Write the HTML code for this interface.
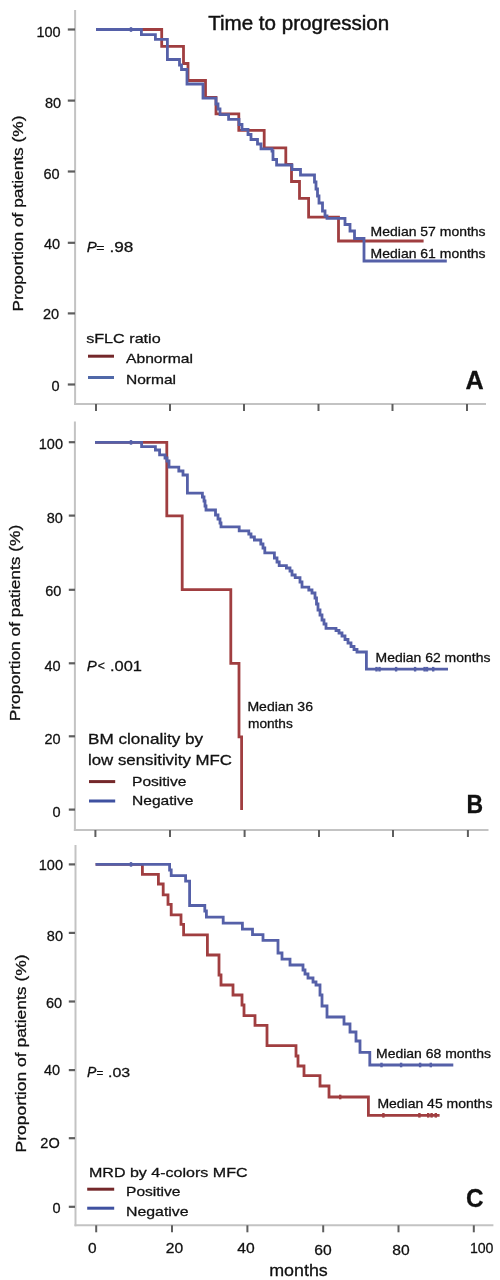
<!DOCTYPE html>
<html><head><meta charset="utf-8"><style>
html,body{margin:0;padding:0;background:#fff;}
svg{display:block;font-family:"Liberation Sans", sans-serif;will-change:transform;}

</style></head><body>
<svg width="500" height="1280" viewBox="0 0 500 1280">
<rect width="500" height="1280" fill="#fff"/>
<line x1="75.1" y1="10" x2="75.1" y2="405" stroke="#c3c3c3" stroke-width="2"/>
<line x1="74.1" y1="404" x2="486" y2="404" stroke="#c3c3c3" stroke-width="2"/>
<line x1="67.8" y1="29.5" x2="75" y2="29.5" stroke="#5e5e5e" stroke-width="2.2"/>
<line x1="67.8" y1="100.6" x2="75" y2="100.6" stroke="#5e5e5e" stroke-width="2.2"/>
<line x1="67.8" y1="171.5" x2="75" y2="171.5" stroke="#5e5e5e" stroke-width="2.2"/>
<line x1="67.8" y1="242.8" x2="75" y2="242.8" stroke="#5e5e5e" stroke-width="2.2"/>
<line x1="67.8" y1="313.4" x2="75" y2="313.4" stroke="#5e5e5e" stroke-width="2.2"/>
<line x1="67.8" y1="384.5" x2="75" y2="384.5" stroke="#5e5e5e" stroke-width="2.2"/>
<line x1="96" y1="404" x2="96" y2="411" stroke="#5e5e5e" stroke-width="2"/>
<line x1="170" y1="404" x2="170" y2="411" stroke="#5e5e5e" stroke-width="2"/>
<line x1="244" y1="404" x2="244" y2="411" stroke="#5e5e5e" stroke-width="2"/>
<line x1="318.5" y1="404" x2="318.5" y2="411" stroke="#5e5e5e" stroke-width="2"/>
<line x1="392.5" y1="404" x2="392.5" y2="411" stroke="#5e5e5e" stroke-width="2"/>
<line x1="467" y1="404" x2="467" y2="411" stroke="#5e5e5e" stroke-width="2"/>
<text x="60.7" y="36.7" font-size="14.5" text-anchor="end" font-weight="normal" font-style="normal" fill="#111" stroke="#111" stroke-width="0.28" >100</text>
<text x="61.2" y="107.95" font-size="14.5" text-anchor="end" font-weight="normal" font-style="normal" fill="#111" stroke="#111" stroke-width="0.28" >80</text>
<text x="59.7" y="179.2" font-size="14.5" text-anchor="end" font-weight="normal" font-style="normal" fill="#111" stroke="#111" stroke-width="0.28" >60</text>
<text x="60.2" y="248.7" font-size="14.5" text-anchor="end" font-weight="normal" font-style="normal" fill="#111" stroke="#111" stroke-width="0.28" >40</text>
<text x="59.2" y="319.45" font-size="14.5" text-anchor="end" font-weight="normal" font-style="normal" fill="#111" stroke="#111" stroke-width="0.28" >20</text>
<text x="59.6" y="390.5" font-size="14.5" text-anchor="end" font-weight="normal" font-style="normal" fill="#111" stroke="#111" stroke-width="0.28" >0</text>
<text transform="translate(22.9,311.6) rotate(-90)" font-size="15.2" fill="#111" stroke="#111" stroke-width="0.28" textLength="196" lengthAdjust="spacingAndGlyphs">Proportion of patients (%)</text>
<text x="208.2" y="29.5" font-size="19.6" text-anchor="start" font-weight="normal" font-style="normal" fill="#111" stroke="#111" stroke-width="0.45" textLength="181" lengthAdjust="spacingAndGlyphs" >Time to progression</text>
<path d="M96,29.5 H161.7 V46.3 H183.5 V63.5 H188 V80.5 H205.5 V97.3 H216 V113.8 H238.8 V130.3 H264.2 V147.8 H285.8 V164.4 H291.5 V181.5 H299.5 V198.3 H308.6 V217.2 H338.5 V241 H423.6" fill="none" stroke="#a03e40" stroke-width="2.8" stroke-linejoin="miter" stroke-linecap="butt"/>
<path d="M96,29.5 H141.4 V34.6 H155.4 V39.4 H167.4 V59.5 H179.5 V65 H181.5 V69.5 H187 V84 H203 V98.2 H216 V104 H218 V109 H220 V114.6 H228.6 V119.4 H239 V124.5 H242 V129.5 H248 V134.5 H251 V139.5 H257.5 V144 H261 V148.8 H272 V151 H273 V159.5 H276.6 V165 H292 V169.5 H300.5 V175 H314.5 V182 H316 V189 H317.5 V196 H319 V203 H322.5 V211 H325 V216 H327 V218.3 H345 V224.5 H350 V231 H354.5 V238.5 H364 V261 H446.8" fill="none" stroke="#5560a8" stroke-width="2.8" stroke-linejoin="miter" stroke-linecap="butt"/>
<rect x="129.8" y="27.2" width="2.4" height="4.6" fill="#5560a8"/>
<text x="370.6" y="236.2" font-size="12.2" text-anchor="start" font-weight="normal" font-style="normal" fill="#111" stroke="#111" stroke-width="0.28" textLength="115" lengthAdjust="spacingAndGlyphs" >Median 57 months</text>
<text x="370.6" y="257.8" font-size="12.2" text-anchor="start" font-weight="normal" font-style="normal" fill="#111" stroke="#111" stroke-width="0.28" textLength="115" lengthAdjust="spacingAndGlyphs" >Median 61 months</text>
<text x="86.7" y="252.4" font-size="15" text-anchor="start" font-weight="normal" font-style="italic" fill="#111" stroke="#111" stroke-width="0.28" >P</text>
<text x="100.3" y="252.1" font-size="12.75" text-anchor="middle" font-weight="normal" font-style="normal" fill="#111" stroke="#111" stroke-width="0.28" textLength="8.200000000000006" lengthAdjust="spacingAndGlyphs" >=</text>
<text x="109.5" y="252.4" font-size="15" text-anchor="start" font-weight="normal" font-style="normal" fill="#111" stroke="#111" stroke-width="0.28" textLength="23.900000000000002" lengthAdjust="spacingAndGlyphs" >.98</text>
<text x="86.2" y="343" font-size="13.5" text-anchor="start" font-weight="normal" font-style="normal" fill="#111" stroke="#111" stroke-width="0.28" textLength="74.5" lengthAdjust="spacingAndGlyphs" >sFLC ratio</text>
<line x1="88" y1="356.2" x2="114" y2="356.2" stroke="#74282a" stroke-width="3"/>
<line x1="88" y1="377.5" x2="114" y2="377.5" stroke="#5068a8" stroke-width="3"/>
<text x="126" y="363.4" font-size="13.5" text-anchor="start" font-weight="normal" font-style="normal" fill="#111" stroke="#111" stroke-width="0.28" textLength="67" lengthAdjust="spacingAndGlyphs" >Abnormal</text>
<text x="126" y="383.8" font-size="13.5" text-anchor="start" font-weight="normal" font-style="normal" fill="#111" stroke="#111" stroke-width="0.28" textLength="50" lengthAdjust="spacingAndGlyphs" >Normal</text>
<text x="465.6" y="388.8" font-size="25.2" text-anchor="start" font-weight="bold" font-style="normal" fill="#111" stroke="#111" stroke-width="0.28" textLength="18.2" lengthAdjust="spacingAndGlyphs" >A</text>
<line x1="74.9" y1="421.6" x2="74.9" y2="831" stroke="#c3c3c3" stroke-width="2"/>
<line x1="73.9" y1="830" x2="488.5" y2="830" stroke="#c3c3c3" stroke-width="2"/>
<line x1="68.8" y1="442.2" x2="75" y2="442.2" stroke="#5e5e5e" stroke-width="2.2"/>
<line x1="68.8" y1="515.6" x2="75" y2="515.6" stroke="#5e5e5e" stroke-width="2.2"/>
<line x1="68.8" y1="589.8" x2="75" y2="589.8" stroke="#5e5e5e" stroke-width="2.2"/>
<line x1="68.8" y1="663.3" x2="75" y2="663.3" stroke="#5e5e5e" stroke-width="2.2"/>
<line x1="68.8" y1="736.3" x2="75" y2="736.3" stroke="#5e5e5e" stroke-width="2.2"/>
<line x1="68.8" y1="809.6" x2="75" y2="809.6" stroke="#5e5e5e" stroke-width="2.2"/>
<line x1="95.4" y1="830" x2="95.4" y2="837" stroke="#5e5e5e" stroke-width="2"/>
<line x1="170" y1="830" x2="170" y2="837" stroke="#5e5e5e" stroke-width="2"/>
<line x1="244.6" y1="830" x2="244.6" y2="837" stroke="#5e5e5e" stroke-width="2"/>
<line x1="319" y1="830" x2="319" y2="837" stroke="#5e5e5e" stroke-width="2"/>
<line x1="393" y1="830" x2="393" y2="837" stroke="#5e5e5e" stroke-width="2"/>
<line x1="467.9" y1="830" x2="467.9" y2="837" stroke="#5e5e5e" stroke-width="2"/>
<text x="63.0" y="449.3" font-size="14.5" text-anchor="end" font-weight="normal" font-style="normal" fill="#111" stroke="#111" stroke-width="0.28" >100</text>
<text x="62.900000000000006" y="523.0" font-size="14.5" text-anchor="end" font-weight="normal" font-style="normal" fill="#111" stroke="#111" stroke-width="0.28" >80</text>
<text x="61.400000000000006" y="595.6" font-size="14.5" text-anchor="end" font-weight="normal" font-style="normal" fill="#111" stroke="#111" stroke-width="0.28" >60</text>
<text x="60.7" y="670.95" font-size="14.5" text-anchor="end" font-weight="normal" font-style="normal" fill="#111" stroke="#111" stroke-width="0.28" >40</text>
<text x="60.7" y="744.35" font-size="14.5" text-anchor="end" font-weight="normal" font-style="normal" fill="#111" stroke="#111" stroke-width="0.28" >20</text>
<text x="60.7" y="817.2" font-size="14.5" text-anchor="end" font-weight="normal" font-style="normal" fill="#111" stroke="#111" stroke-width="0.28" >0</text>
<text transform="translate(20.1,721.2) rotate(-90)" font-size="15.2" fill="#111" stroke="#111" stroke-width="0.28" textLength="196.4" lengthAdjust="spacingAndGlyphs">Proportion of patients (%)</text>
<path d="M95,442.4 H166.8 V515.8 H182.2 V589.6 H230.8 V663.4 H239 V736.8 H241.6 V810" fill="none" stroke="#a03e40" stroke-width="2.8" stroke-linejoin="miter" stroke-linecap="butt"/>
<path d="M95,442.4 H141.6 V446.6 H155.4 V450 H159.6 V454.8 H165 V458 H167 V461 H169 V467.2 H178.8 V471 H183 V475 H187.4 V493.2 H202.4 V497 H204 V501 H205 V506 H206 V510 H215.5 V515 H218 V519 H220 V523 H221 V526.8 H239.2 V530.8 H248.8 V534 H251 V537 H254.4 V540 H260.8 V544 H263 V548 H264.8 V552.8 H274.4 V558 H277 V562 H279.2 V565.6 H286.4 V568 H290 V571 H292 V575 H295.2 V577.6 H300 V582 H302 V587.2 H308.8 V590 H312 V593 H315 V598 H316.5 V604 H318 V610 H320 V615 H322 V620 H324 V624 H326 V628.4 H336 V630.5 H339 V633 H342 V636 H345 V639.5 H348 V643 H351 V646.5 H354 V649.5 H357 V652 H366.4 V669.2 H448" fill="none" stroke="#5560a8" stroke-width="2.8" stroke-linejoin="miter" stroke-linecap="butt"/>
<rect x="129.8" y="440.09999999999997" width="2.4" height="4.6" fill="#5560a8"/>
<rect x="375.3" y="666.9000000000001" width="2.4" height="4.6" fill="#5560a8"/>
<rect x="378.3" y="666.9000000000001" width="2.4" height="4.6" fill="#5560a8"/>
<rect x="394.90000000000003" y="666.9000000000001" width="2.4" height="4.6" fill="#5560a8"/>
<rect x="413.90000000000003" y="666.9000000000001" width="2.4" height="4.6" fill="#5560a8"/>
<rect x="423.40000000000003" y="666.9000000000001" width="2.4" height="4.6" fill="#5560a8"/>
<rect x="425.8" y="666.9000000000001" width="2.4" height="4.6" fill="#5560a8"/>
<rect x="432.0" y="666.9000000000001" width="2.4" height="4.6" fill="#5560a8"/>
<text x="375.6" y="661.8" font-size="12.2" text-anchor="start" font-weight="normal" font-style="normal" fill="#111" stroke="#111" stroke-width="0.28" textLength="114.8" lengthAdjust="spacingAndGlyphs" >Median 62 months</text>
<text x="247.4" y="710.8" font-size="12.2" text-anchor="start" font-weight="normal" font-style="normal" fill="#111" stroke="#111" stroke-width="0.28" textLength="65.6" lengthAdjust="spacingAndGlyphs" >Median 36</text>
<text x="248" y="728.4" font-size="12.2" text-anchor="start" font-weight="normal" font-style="normal" fill="#111" stroke="#111" stroke-width="0.28" textLength="44.8" lengthAdjust="spacingAndGlyphs" >months</text>
<text x="86.7" y="670.6" font-size="15" text-anchor="start" font-weight="normal" font-style="italic" fill="#111" stroke="#111" stroke-width="0.28" >P</text>
<text x="101.35" y="670.3000000000001" font-size="12.75" text-anchor="middle" font-weight="normal" font-style="normal" fill="#111" stroke="#111" stroke-width="0.28" textLength="7.099999999999997" lengthAdjust="spacingAndGlyphs" >&lt;</text>
<text x="110.0" y="670.6" font-size="15" text-anchor="start" font-weight="normal" font-style="normal" fill="#111" stroke="#111" stroke-width="0.28" textLength="31.999999999999996" lengthAdjust="spacingAndGlyphs" >.001</text>
<text x="88" y="744.2" font-size="14.5" text-anchor="start" font-weight="normal" font-style="normal" fill="#111" stroke="#111" stroke-width="0.28" textLength="115.2" lengthAdjust="spacingAndGlyphs" >BM clonality by</text>
<text x="88" y="765" font-size="14.5" text-anchor="start" font-weight="normal" font-style="normal" fill="#111" stroke="#111" stroke-width="0.28" textLength="144" lengthAdjust="spacingAndGlyphs" >low sensitivity MFC</text>
<line x1="89" y1="781.6" x2="115.2" y2="781.6" stroke="#74282a" stroke-width="3"/>
<line x1="89" y1="801" x2="115.2" y2="801" stroke="#3f51a0" stroke-width="3"/>
<text x="132" y="785.8" font-size="13.5" text-anchor="start" font-weight="normal" font-style="normal" fill="#111" stroke="#111" stroke-width="0.28" textLength="54.5" lengthAdjust="spacingAndGlyphs" >Positive</text>
<text x="132" y="805" font-size="13.5" text-anchor="start" font-weight="normal" font-style="normal" fill="#111" stroke="#111" stroke-width="0.28" textLength="61.5" lengthAdjust="spacingAndGlyphs" >Negative</text>
<text x="466.6" y="812.7" font-size="25.2" text-anchor="start" font-weight="bold" font-style="normal" fill="#111" stroke="#111" stroke-width="0.28" textLength="16.6" lengthAdjust="spacingAndGlyphs" >B</text>
<line x1="75.5" y1="845" x2="75.5" y2="1226.3" stroke="#c3c3c3" stroke-width="2"/>
<line x1="74.5" y1="1225.3" x2="493.4" y2="1225.3" stroke="#c3c3c3" stroke-width="2"/>
<line x1="68.8" y1="864.4" x2="75" y2="864.4" stroke="#5e5e5e" stroke-width="2.2"/>
<line x1="68.8" y1="932.9" x2="75" y2="932.9" stroke="#5e5e5e" stroke-width="2.2"/>
<line x1="68.8" y1="1001.5" x2="75" y2="1001.5" stroke="#5e5e5e" stroke-width="2.2"/>
<line x1="68.8" y1="1070.1" x2="75" y2="1070.1" stroke="#5e5e5e" stroke-width="2.2"/>
<line x1="68.8" y1="1138.2" x2="75" y2="1138.2" stroke="#5e5e5e" stroke-width="2.2"/>
<line x1="68.8" y1="1206.8" x2="75" y2="1206.8" stroke="#5e5e5e" stroke-width="2.2"/>
<line x1="96.2" y1="1225.3" x2="96.2" y2="1232.3" stroke="#5e5e5e" stroke-width="2"/>
<line x1="172" y1="1225.3" x2="172" y2="1232.3" stroke="#5e5e5e" stroke-width="2"/>
<line x1="247.4" y1="1225.3" x2="247.4" y2="1232.3" stroke="#5e5e5e" stroke-width="2"/>
<line x1="323.2" y1="1225.3" x2="323.2" y2="1232.3" stroke="#5e5e5e" stroke-width="2"/>
<line x1="398.5" y1="1225.3" x2="398.5" y2="1232.3" stroke="#5e5e5e" stroke-width="2"/>
<line x1="473.8" y1="1225.3" x2="473.8" y2="1232.3" stroke="#5e5e5e" stroke-width="2"/>
<text x="63.0" y="869.7" font-size="14.5" text-anchor="end" font-weight="normal" font-style="normal" fill="#111" stroke="#111" stroke-width="0.28" >100</text>
<text x="63.0" y="941.2" font-size="14.5" text-anchor="end" font-weight="normal" font-style="normal" fill="#111" stroke="#111" stroke-width="0.28" >80</text>
<text x="62.2" y="1007.7" font-size="14.5" text-anchor="end" font-weight="normal" font-style="normal" fill="#111" stroke="#111" stroke-width="0.28" >60</text>
<text x="60.2" y="1075.45" font-size="14.5" text-anchor="end" font-weight="normal" font-style="normal" fill="#111" stroke="#111" stroke-width="0.28" >40</text>
<text x="59.7" y="1147.7" font-size="14.5" text-anchor="end" font-weight="normal" font-style="normal" fill="#111" stroke="#111" stroke-width="0.28" >2O</text>
<text x="60.7" y="1213.2" font-size="14.5" text-anchor="end" font-weight="normal" font-style="normal" fill="#111" stroke="#111" stroke-width="0.28" >0</text>
<text transform="translate(26.1,1152.4) rotate(-90)" font-size="15.2" fill="#111" stroke="#111" stroke-width="0.28" textLength="198" lengthAdjust="spacingAndGlyphs">Proportion of patients (%)</text>
<path d="M95.6,864.4 H142.4 V874.3 H158.4 V884 H163.2 V894.8 H168 V904.4 H171.2 V914.8 H181 V924.4 H183.6 V934.8 H207.4 V955 H219 V975 H221 V985 H233 V995 H242 V1005 H244 V1015.6 H255 V1025.3 H267 V1045.6 H296 V1056 H298 V1066 H304 V1075.6 H320 V1086 H329 V1097 H368.4 V1115.3 H439.6" fill="none" stroke="#a03e40" stroke-width="2.8" stroke-linejoin="miter" stroke-linecap="butt"/>
<path d="M95.6,864.4 H169.6 V870 H171.2 V875.6 H185.6 V881.2 H189.6 V905.5 H204.8 V911 H206.4 V917.2 H223.2 V923.1 H242.4 V929.2 H252.5 V934.6 H263 V940.4 H278 V953 H282 V959.2 H290 V965 H303 V970 H305 V974 H308 V978 H313 V982 H316 V985 H320 V995 H322 V1006 H327 V1017 H344 V1024 H350 V1032 H356 V1041 H360 V1052.4 H369.8 V1065 H453.3" fill="none" stroke="#5560a8" stroke-width="2.8" stroke-linejoin="miter" stroke-linecap="butt"/>
<rect x="129.8" y="862.1" width="2.4" height="4.6" fill="#5560a8"/>
<rect x="339.0" y="1094.7" width="2.4" height="4.6" fill="#a03e40"/>
<rect x="380.3" y="1062.7" width="2.4" height="4.6" fill="#5560a8"/>
<rect x="399.90000000000003" y="1062.7" width="2.4" height="4.6" fill="#5560a8"/>
<rect x="418.90000000000003" y="1062.7" width="2.4" height="4.6" fill="#5560a8"/>
<rect x="429.6" y="1062.7" width="2.4" height="4.6" fill="#5560a8"/>
<rect x="382.2" y="1113.0" width="2.4" height="4.6" fill="#a03e40"/>
<rect x="418.2" y="1113.0" width="2.4" height="4.6" fill="#a03e40"/>
<rect x="427.0" y="1113.0" width="2.4" height="4.6" fill="#a03e40"/>
<rect x="430.40000000000003" y="1113.0" width="2.4" height="4.6" fill="#a03e40"/>
<rect x="434.6" y="1113.0" width="2.4" height="4.6" fill="#a03e40"/>
<text x="376" y="1058.2" font-size="12.2" text-anchor="start" font-weight="normal" font-style="normal" fill="#111" stroke="#111" stroke-width="0.28" textLength="115" lengthAdjust="spacingAndGlyphs" >Median 68 months</text>
<text x="377.4" y="1107.8" font-size="12.2" text-anchor="start" font-weight="normal" font-style="normal" fill="#111" stroke="#111" stroke-width="0.28" textLength="115" lengthAdjust="spacingAndGlyphs" >Median 45 months</text>
<text x="86.9" y="1077" font-size="14" text-anchor="start" font-weight="normal" font-style="italic" fill="#111" stroke="#111" stroke-width="0.28" >P</text>
<text x="99.8" y="1076.7" font-size="11.475" text-anchor="middle" font-weight="normal" font-style="normal" fill="#111" stroke="#111" stroke-width="0.28" textLength="6.8" lengthAdjust="spacingAndGlyphs" >=</text>
<text x="108.0" y="1077" font-size="13.5" text-anchor="start" font-weight="normal" font-style="normal" fill="#111" stroke="#111" stroke-width="0.28" textLength="22.200000000000014" lengthAdjust="spacingAndGlyphs" >.03</text>
<text x="89" y="1176.6" font-size="13.5" text-anchor="start" font-weight="normal" font-style="normal" fill="#111" stroke="#111" stroke-width="0.28" textLength="158.5" lengthAdjust="spacingAndGlyphs" >MRD by 4-colors MFC</text>
<line x1="87.2" y1="1189.2" x2="114.2" y2="1189.2" stroke="#74282a" stroke-width="3"/>
<line x1="87.2" y1="1208.2" x2="114.2" y2="1208.2" stroke="#3f51a0" stroke-width="3"/>
<text x="126" y="1195.6" font-size="13.5" text-anchor="start" font-weight="normal" font-style="normal" fill="#111" stroke="#111" stroke-width="0.28" textLength="54.5" lengthAdjust="spacingAndGlyphs" >Positive</text>
<text x="126" y="1216.2" font-size="13.5" text-anchor="start" font-weight="normal" font-style="normal" fill="#111" stroke="#111" stroke-width="0.28" textLength="62.6" lengthAdjust="spacingAndGlyphs" >Negative</text>
<text x="466" y="1206.6" font-size="25.2" text-anchor="start" font-weight="bold" font-style="normal" fill="#111" stroke="#111" stroke-width="0.28" textLength="17.6" lengthAdjust="spacingAndGlyphs" >C</text>
<text x="92.4" y="1252.7" font-size="14.5" text-anchor="middle" font-weight="normal" font-style="normal" fill="#111" stroke="#111" stroke-width="0.28" textLength="8.6" lengthAdjust="spacingAndGlyphs" >0</text>
<text x="174.4" y="1253" font-size="14.5" text-anchor="middle" font-weight="normal" font-style="normal" fill="#111" stroke="#111" stroke-width="0.28" textLength="17.4" lengthAdjust="spacingAndGlyphs" >20</text>
<text x="246" y="1253" font-size="14.5" text-anchor="middle" font-weight="normal" font-style="normal" fill="#111" stroke="#111" stroke-width="0.28" textLength="17.4" lengthAdjust="spacingAndGlyphs" >40</text>
<text x="323" y="1255" font-size="14.5" text-anchor="middle" font-weight="normal" font-style="normal" fill="#111" stroke="#111" stroke-width="0.28" textLength="17.4" lengthAdjust="spacingAndGlyphs" >60</text>
<text x="400.9" y="1254.6" font-size="14.5" text-anchor="middle" font-weight="normal" font-style="normal" fill="#111" stroke="#111" stroke-width="0.28" textLength="17.4" lengthAdjust="spacingAndGlyphs" >80</text>
<text x="481.7" y="1253.4" font-size="14.5" text-anchor="middle" font-weight="normal" font-style="normal" fill="#111" stroke="#111" stroke-width="0.28" textLength="23.6" lengthAdjust="spacingAndGlyphs" >100</text>
<text x="269.2" y="1275.8" font-size="17" text-anchor="start" font-weight="normal" font-style="normal" fill="#111" stroke="#111" stroke-width="0.28" textLength="58.6" lengthAdjust="spacingAndGlyphs" >months</text>
</svg>
</body></html>
